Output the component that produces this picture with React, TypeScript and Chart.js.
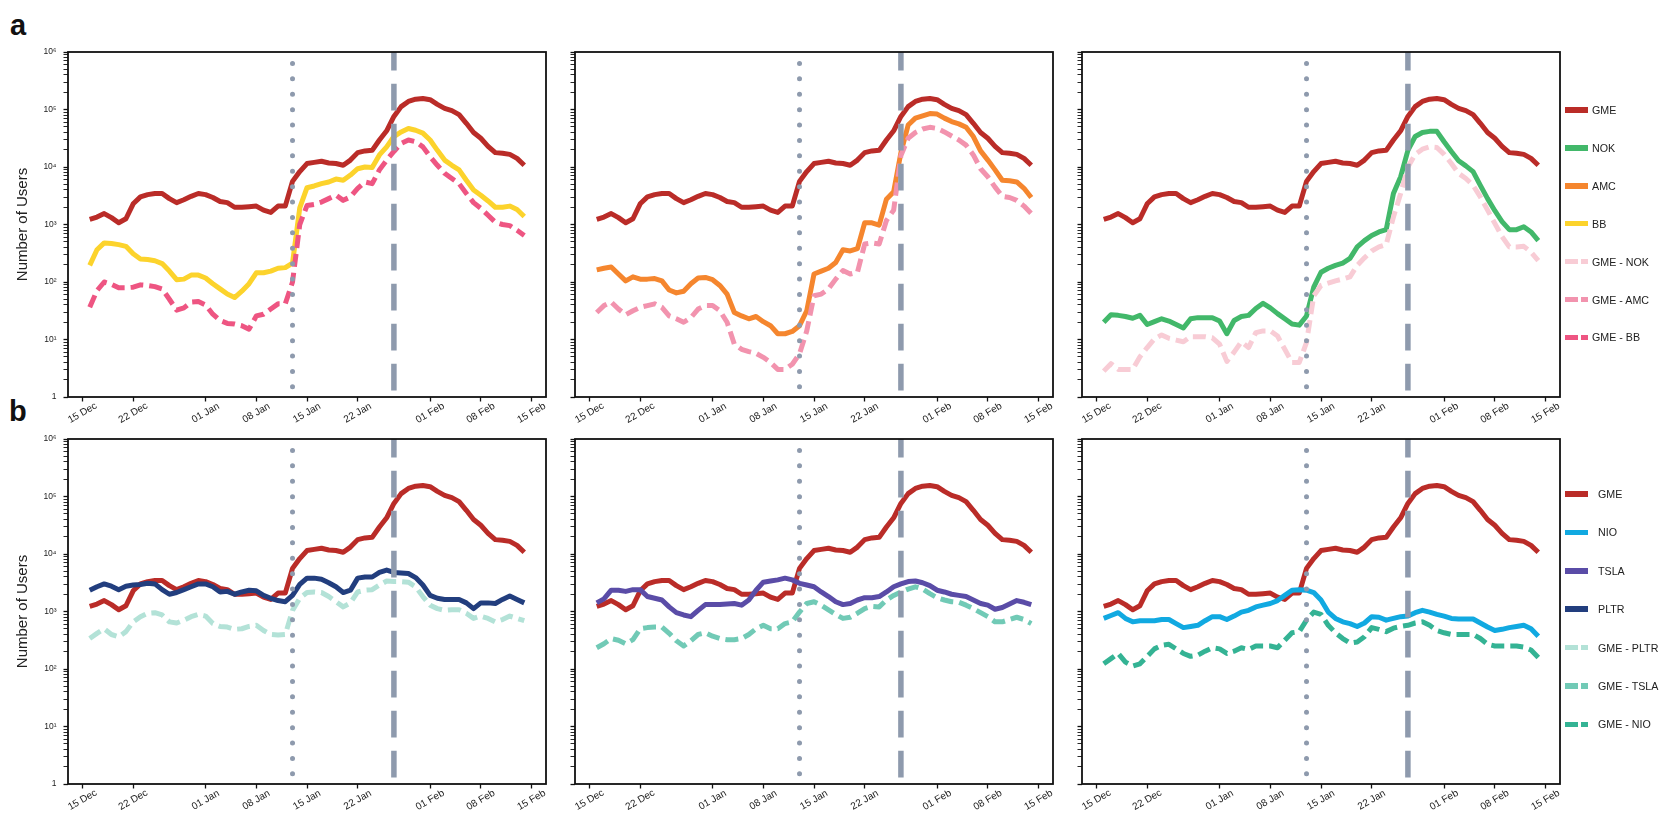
import React, { useEffect, useRef } from 'react';
import { Chart, registerables } from 'chart.js';

Chart.register(...registerables);

const FONT = '"Liberation Sans", Arial, Helvetica, sans-serif';

// x axis: days since 15 Dec 2020 (linear axis)
const firstDay = 1; // first data point: 16 Dec
const xTickDays = [0, 7, 17, 24, 31, 38, 48, 55, 62];
const xTickLabels = ['15 Dec', '22 Dec', '01 Jan', '08 Jan', '15 Jan', '22 Jan', '01 Feb', '08 Feb', '15 Feb'];
const xMin = -2;
const xMax = 64;
const dottedEventDay = 29; // 13 Jan
const dashedEventDay = 43; // 27 Jan
const dottedSpan = [1.5, 6.5e5];
const dashedSpan = [1.3, 1e6];

// y axis tick labels (log scale)
const yTickText: Record<string, string> = {
  '0': '1', '1': '10¹', '2': '10²', '3': '10³', '4': '10⁴', '5': '10⁵', '6': '10⁶',
};

// Series values, stored as log10(number of users), one value per day from 16 Dec to 14 Feb
const gmeLog = [3.09, 3.13, 3.19, 3.12, 3.03, 3.10, 3.36, 3.48, 3.52, 3.54,
  3.54, 3.45, 3.38, 3.43, 3.49, 3.54, 3.52, 3.47, 3.40, 3.38,
  3.30, 3.30, 3.31, 3.32, 3.25, 3.21, 3.32, 3.32, 3.75, 3.92,
  4.06, 4.08, 4.10, 4.07, 4.06, 4.03, 4.12, 4.25, 4.28, 4.29,
  4.47, 4.63, 4.88, 5.05, 5.14, 5.18, 5.19, 5.17, 5.09, 5.02,
  4.98, 4.91, 4.76, 4.60, 4.50, 4.36, 4.25, 4.24, 4.22, 4.15, 4.03];

const bbLog = [2.29, 2.56, 2.68, 2.67, 2.65, 2.62, 2.49, 2.40, 2.39, 2.37,
  2.32, 2.19, 2.04, 2.05, 2.12, 2.12, 2.07, 1.97, 1.88, 1.79,
  1.73, 1.84, 1.97, 2.16, 2.16, 2.19, 2.24, 2.25, 2.33, 3.29,
  3.64, 3.67, 3.71, 3.74, 3.79, 3.77, 3.86, 3.97, 4.00, 3.99,
  4.21, 4.35, 4.53, 4.61, 4.67, 4.64, 4.59, 4.47, 4.29, 4.12,
  4.03, 3.95, 3.77, 3.60, 3.51, 3.41, 3.30, 3.30, 3.32, 3.26, 3.14];

const gmeBbLog = [1.56, 1.85, 2.00, 1.96, 1.90, 1.90, 1.91, 1.95, 1.94, 1.92,
  1.88, 1.70, 1.51, 1.55, 1.65, 1.66, 1.60, 1.44, 1.33, 1.28,
  1.27, 1.24, 1.18, 1.41, 1.44, 1.53, 1.62, 1.62, 2.00, 3.00,
  3.33, 3.35, 3.39, 3.45, 3.51, 3.42, 3.48, 3.63, 3.74, 3.71,
  3.95, 4.12, 4.27, 4.41, 4.47, 4.44, 4.35, 4.18, 4.03, 3.89,
  3.80, 3.71, 3.54, 3.38, 3.28, 3.16, 3.04, 3.00, 2.98, 2.90, 2.81];

const amcLog = [2.21, 2.24, 2.26, 2.14, 2.02, 2.09, 2.05, 2.05, 2.06, 2.02,
  1.86, 1.81, 1.84, 1.97, 2.07, 2.08, 2.04, 1.94, 1.79, 1.47,
  1.41, 1.36, 1.40, 1.31, 1.24, 1.10, 1.10, 1.14, 1.24, 1.50,
  2.14, 2.19, 2.24, 2.34, 2.56, 2.54, 2.58, 3.03, 3.03, 2.99,
  3.44, 3.57, 4.25, 4.73, 4.85, 4.89, 4.93, 4.92, 4.85, 4.79,
  4.75, 4.69, 4.53, 4.28, 4.12, 3.95, 3.77, 3.76, 3.74, 3.63, 3.47];

const gmeAmcLog = [1.47, 1.59, 1.65, 1.53, 1.43, 1.50, 1.56, 1.59, 1.62, 1.56,
  1.41, 1.36, 1.30, 1.38, 1.53, 1.59, 1.59, 1.50, 1.30, 0.92,
  0.83, 0.79, 0.76, 0.69, 0.60, 0.48, 0.48, 0.57, 0.75, 1.15,
  1.76, 1.79, 1.88, 2.05, 2.20, 2.14, 2.17, 2.66, 2.68, 2.66,
  3.07, 3.25, 4.20, 4.50, 4.60, 4.66, 4.69, 4.67, 4.61, 4.54,
  4.47, 4.38, 4.21, 3.97, 3.83, 3.65, 3.49, 3.47, 3.42, 3.32, 3.19];

const nokLog = [1.30, 1.43, 1.42, 1.40, 1.37, 1.42, 1.26, 1.31, 1.36, 1.32,
  1.26, 1.20, 1.36, 1.38, 1.38, 1.38, 1.32, 1.10, 1.33, 1.40,
  1.42, 1.54, 1.63, 1.55, 1.45, 1.36, 1.27, 1.25, 1.41, 1.91,
  2.17, 2.24, 2.29, 2.33, 2.41, 2.61, 2.72, 2.81, 2.87, 2.91,
  3.54, 3.83, 4.29, 4.53, 4.60, 4.62, 4.62, 4.44, 4.27, 4.11,
  4.02, 3.92, 3.68, 3.45, 3.24, 3.05, 2.91, 2.91, 2.96, 2.87, 2.72];

const gmeNokLog = [0.45, 0.58, 0.48, 0.48, 0.48, 0.70, 0.86, 1.01, 1.08, 1.02,
  0.99, 0.96, 1.05, 1.05, 1.05, 1.03, 0.92, 0.62, 0.78, 0.96,
  0.86, 1.12, 1.15, 1.15, 1.06, 0.83, 0.60, 0.60, 0.95, 1.76,
  1.94, 1.98, 2.02, 2.05, 2.09, 2.29, 2.42, 2.54, 2.61, 2.65,
  3.13, 3.54, 4.00, 4.22, 4.31, 4.35, 4.34, 4.22, 4.06, 3.89,
  3.80, 3.68, 3.48, 3.25, 3.02, 2.79, 2.61, 2.61, 2.62, 2.52, 2.37];

const pltrLog = [3.37, 3.43, 3.48, 3.44, 3.38, 3.44, 3.46, 3.47, 3.49, 3.48,
  3.38, 3.30, 3.33, 3.38, 3.43, 3.48, 3.48, 3.43, 3.34, 3.35,
  3.30, 3.34, 3.37, 3.36, 3.28, 3.23, 3.19, 3.17, 3.28, 3.47,
  3.58, 3.58, 3.56, 3.50, 3.43, 3.33, 3.37, 3.58, 3.60, 3.60,
  3.68, 3.72, 3.68, 3.67, 3.66, 3.59, 3.46, 3.28, 3.23, 3.21,
  3.21, 3.21, 3.15, 3.05, 3.15, 3.15, 3.14, 3.21, 3.27, 3.21, 3.15];

const gmePltrLog = [2.53, 2.62, 2.70, 2.60, 2.56, 2.65, 2.82, 2.91, 2.97, 2.98,
  2.94, 2.82, 2.80, 2.85, 2.91, 2.95, 2.92, 2.79, 2.74, 2.73,
  2.69, 2.70, 2.74, 2.76, 2.67, 2.60, 2.59, 2.60, 3.02, 3.23,
  3.33, 3.34, 3.33, 3.26, 3.17, 3.08, 3.15, 3.34, 3.37, 3.38,
  3.46, 3.53, 3.52, 3.52, 3.51, 3.43, 3.26, 3.11, 3.05, 3.02,
  3.03, 3.03, 2.97, 2.88, 2.92, 2.88, 2.82, 2.86, 2.92, 2.88, 2.84];

const tslaLog = [3.15, 3.22, 3.37, 3.37, 3.35, 3.38, 3.38, 3.26, 3.23, 3.20,
  3.08, 2.98, 2.94, 2.91, 3.02, 3.12, 3.12, 3.12, 3.13, 3.14,
  3.11, 3.20, 3.37, 3.51, 3.53, 3.55, 3.58, 3.55, 3.49, 3.46,
  3.43, 3.34, 3.26, 3.17, 3.12, 3.14, 3.20, 3.24, 3.24, 3.26,
  3.34, 3.43, 3.48, 3.52, 3.53, 3.50, 3.45, 3.37, 3.34, 3.30,
  3.28, 3.26, 3.20, 3.14, 3.11, 3.04, 3.07, 3.13, 3.19, 3.16, 3.12];

const gmeTslaLog = [2.37, 2.44, 2.53, 2.50, 2.44, 2.51, 2.70, 2.72, 2.73, 2.73,
  2.62, 2.49, 2.40, 2.49, 2.60, 2.63, 2.57, 2.53, 2.51, 2.51,
  2.53, 2.60, 2.70, 2.76, 2.70, 2.70, 2.79, 2.82, 2.99, 3.14,
  3.17, 3.11, 3.03, 2.95, 2.88, 2.90, 2.97, 3.05, 3.09, 3.08,
  3.20, 3.28, 3.34, 3.39, 3.43, 3.39, 3.31, 3.24, 3.20, 3.17,
  3.16, 3.11, 3.05, 2.98, 2.91, 2.82, 2.82, 2.86, 2.90, 2.86, 2.79];

const nioLog = [2.88, 2.93, 2.98, 2.88, 2.82, 2.84, 2.84, 2.84, 2.86, 2.86,
  2.79, 2.72, 2.74, 2.76, 2.84, 2.91, 2.91, 2.86, 2.92, 2.99,
  3.02, 3.08, 3.11, 3.14, 3.19, 3.28, 3.37, 3.38, 3.37, 3.33,
  3.20, 2.99, 2.88, 2.82, 2.79, 2.74, 2.80, 2.91, 2.90, 2.85,
  2.88, 2.91, 2.92, 2.98, 3.02, 2.99, 2.95, 2.92, 2.88, 2.87,
  2.87, 2.87, 2.80, 2.73, 2.67, 2.69, 2.72, 2.74, 2.76, 2.70, 2.57];

const gmeNioLog = [2.09, 2.18, 2.27, 2.12, 2.05, 2.09, 2.22, 2.35, 2.41, 2.43,
  2.35, 2.27, 2.22, 2.24, 2.31, 2.37, 2.35, 2.27, 2.31, 2.37,
  2.34, 2.40, 2.40, 2.40, 2.37, 2.50, 2.63, 2.65, 2.85, 2.99,
  2.95, 2.76, 2.63, 2.53, 2.45, 2.47, 2.56, 2.72, 2.69, 2.65,
  2.71, 2.74, 2.76, 2.80, 2.82, 2.76, 2.67, 2.63, 2.60, 2.60,
  2.60, 2.60, 2.53, 2.43, 2.40, 2.40, 2.40, 2.40, 2.38, 2.33, 2.20];

const COLORS: Record<string, string> = {
  'GME': '#BA2C28',
  'NOK': '#42B86A',
  'AMC': '#F5862E',
  'BB': '#FCD32C',
  'GME - NOK': '#F8CCD5',
  'GME - AMC': '#F293AE',
  'GME - BB': '#EE5582',
  'NIO': '#11A9E1',
  'TSLA': '#5A4CA7',
  'PLTR': '#223E7E',
  'GME - PLTR': '#B3E2D7',
  'GME - TSLA': '#71CAB6',
  'GME - NIO': '#34B394',
};
const EVENT_COLOR = '#8E9AAD';

const legendA = ['GME', 'NOK', 'AMC', 'BB', 'GME - NOK', 'GME - AMC', 'GME - BB'];
const legendB = ['GME', 'NIO', 'TSLA', 'PLTR', 'GME - PLTR', 'GME - TSLA', 'GME - NIO'];

type Series = { label: string; values: number[] };
type PanelCfg = { left: number; top: number; yLabels: boolean; series: Series[] };

const CA_W = 478;
const CA_H = 345;
const PAD_T = 14;
const PAD_R = 8;
const PAD_B = 40;

const panels: PanelCfg[] = [
  { left: 68, top: 52, yLabels: true, series: [{ label: 'GME', values: gmeLog }, { label: 'BB', values: bbLog }, { label: 'GME - BB', values: gmeBbLog }] },
  { left: 575, top: 52, yLabels: false, series: [{ label: 'GME', values: gmeLog }, { label: 'AMC', values: amcLog }, { label: 'GME - AMC', values: gmeAmcLog }] },
  { left: 1082, top: 52, yLabels: false, series: [{ label: 'GME', values: gmeLog }, { label: 'NOK', values: nokLog }, { label: 'GME - NOK', values: gmeNokLog }] },
  { left: 68, top: 439, yLabels: true, series: [{ label: 'GME', values: gmeLog }, { label: 'PLTR', values: pltrLog }, { label: 'GME - PLTR', values: gmePltrLog }] },
  { left: 575, top: 439, yLabels: false, series: [{ label: 'GME', values: gmeLog }, { label: 'TSLA', values: tslaLog }, { label: 'GME - TSLA', values: gmeTslaLog }] },
  { left: 1082, top: 439, yLabels: false, series: [{ label: 'GME', values: gmeLog }, { label: 'NIO', values: nioLog }, { label: 'GME - NIO', values: gmeNioLog }] },
];

const isDashed = (label: string) => label.indexOf(' - ') >= 0;

const framePlugin = {
  id: 'frame',
  afterDraw(chart: any) {
    const { ctx, chartArea } = chart;
    const { left, top, right, bottom } = chartArea;
    ctx.save();
    ctx.strokeStyle = '#111';
    ctx.lineWidth = 1.8;
    ctx.strokeRect(left, top, right - left, bottom - top);
    ctx.restore();
  },
};

const xLabelPlugin = {
  id: 'xlabels',
  afterDraw(chart: any) {
    const xs = chart.scales.x;
    const ctx = chart.ctx;
    ctx.save();
    ctx.font = `10px ${FONT}`;
    ctx.fillStyle = '#222';
    ctx.textAlign = 'center';
    ctx.textBaseline = 'middle';
    xTickDays.forEach((d, i) => {
      const px = xs.getPixelForValue(d);
      ctx.save();
      ctx.translate(px, chart.chartArea.bottom + 16);
      ctx.rotate(-Math.PI / 6);
      ctx.fillText(xTickLabels[i], 0, 0);
      ctx.restore();
    });
    ctx.restore();
  },
};

function Panel({ cfg }: { cfg: PanelCfg }) {
  const ref = useRef<HTMLCanvasElement>(null);
  const padL = cfg.yLabels ? 68 : 22;
  const W = CA_W + padL + PAD_R;
  const H = CA_H + PAD_T + PAD_B;

  useEffect(() => {
    if (!ref.current) return;
    const n = cfg.series.length;
    const datasets: any[] = [
      {
        label: 'dotted',
        data: [{ x: dottedEventDay, y: dottedSpan[0] }, { x: dottedEventDay, y: dottedSpan[1] }],
        borderColor: EVENT_COLOR,
        borderWidth: 5,
        borderDash: [0, 15.4],
        borderCapStyle: 'round',
        pointRadius: 0,
        order: 0,
      },
      {
        label: 'dashed',
        data: [{ x: dashedEventDay, y: dashedSpan[0] }, { x: dashedEventDay, y: dashedSpan[1] }],
        borderColor: EVENT_COLOR,
        borderWidth: 5.5,
        borderDash: [26.7, 13.3],
        borderCapStyle: 'butt',
        pointRadius: 0,
        order: 0,
      },
    ];
    cfg.series.forEach((s, i) => {
      const dashed = isDashed(s.label);
      datasets.push({
        label: s.label,
        data: s.values.map((v, k) => ({ x: firstDay + k, y: Math.pow(10, v) })),
        borderColor: COLORS[s.label],
        backgroundColor: COLORS[s.label],
        borderWidth: 5,
        borderDash: dashed ? [13, 6] : [],
        borderCapStyle: 'butt',
        borderJoinStyle: 'round',
        pointRadius: 0,
        tension: 0,
        fill: false,
        order: 10 + (n - i),
      });
    });

    const chart = new Chart(ref.current, {
      type: 'line',
      data: { datasets },
      options: {
        animation: false,
        responsive: false,
        events: [],
        layout: { padding: { top: PAD_T, right: PAD_R, left: 0, bottom: 0 } },
        plugins: { legend: { display: false }, tooltip: { enabled: false } },
        scales: {
          x: {
            type: 'linear',
            min: xMin,
            max: xMax,
            border: { display: false },
            grid: { drawOnChartArea: false, drawTicks: true, tickLength: 4.5, tickWidth: 1.3, tickColor: '#111' },
            ticks: { display: false },
            afterBuildTicks: (s: any) => { s.ticks = xTickDays.map((v) => ({ value: v })); },
            afterFit: (s: any) => { s.height = PAD_B; },
          },
          y: {
            type: 'logarithmic',
            min: 1,
            max: 1e6,
            border: { display: false },
            grid: {
              drawOnChartArea: false,
              drawTicks: true,
              tickLength: 4.5,
              tickColor: '#111',
              tickWidth: (ctx: any) => (ctx.tick && ctx.tick.major ? 1.3 : 0.9),
            },
            afterBuildTicks: (s: any) => {
              s.ticks = s.ticks.filter((t: any) => {
                const m = t.value / Math.pow(10, Math.floor(Math.log10(t.value) + 1e-9));
                return Math.abs(m - Math.round(m)) < 1e-6;
              });
            },
            ticks: {
              display: cfg.yLabels,
              autoSkip: false,
              padding: 7,
              color: '#222',
              font: { size: 8.5, family: FONT },
              callback: (v: any) => {
                const e = Math.log10(Number(v));
                const r = Math.round(e);
                return Math.abs(e - r) < 1e-6 ? (yTickText[String(r)] ?? '') : '';
              },
            },
            title: {
              display: cfg.yLabels,
              text: 'Number of Users',
              color: '#222',
              font: { size: 15, family: FONT },
              padding: { top: 14, bottom: 0 },
            },
            afterFit: (s: any) => { s.width = padL; },
          },
        },
      } as any,
      plugins: [framePlugin, xLabelPlugin],
    });
    return () => chart.destroy();
  }, []);

  return (
    <canvas
      ref={ref}
      width={W}
      height={H}
      style={{ position: 'absolute', left: cfg.left - padL, top: cfg.top - PAD_T, width: W, height: H }}
    />
  );
}

function Legend({ labels, top, step, textLeft }: { labels: string[]; top: number; step: number; textLeft: number }) {
  return (
    <>
      {labels.map((lab, i) => {
        const cy = top + i * step;
        const c = COLORS[lab];
        const dashed = isDashed(lab);
        return (
          <React.Fragment key={lab}>
            {dashed ? (
              <>
                <div style={{ position: 'absolute', left: 1565, top: cy - 2.75, width: 12.7, height: 5.5, background: c }} />
                <div style={{ position: 'absolute', left: 1581, top: cy - 2.75, width: 7, height: 5.5, background: c }} />
              </>
            ) : (
              <div style={{ position: 'absolute', left: 1565, top: cy - 2.75, width: 23, height: 5.5, background: c }} />
            )}
            <div
              style={{
                position: 'absolute',
                left: textLeft,
                top: cy - 8,
                height: 16,
                lineHeight: '16px',
                fontSize: 10.7,
                fontFamily: FONT,
                color: '#222',
                whiteSpace: 'nowrap',
              }}
            >
              {lab}
            </div>
          </React.Fragment>
        );
      })}
    </>
  );
}

export default function App() {
  return (
    <div
      style={{
        position: 'absolute',
        left: 0,
        top: 0,
        width: 1661,
        height: 830,
        background: '#fff',
        overflow: 'hidden',
        fontFamily: FONT,
      }}
    >
      <div style={{ position: 'absolute', left: 10, top: 10.5, fontSize: 29, lineHeight: '29px', fontWeight: 'bold', fontFamily: FONT, color: '#111' }}>a</div>
      <div style={{ position: 'absolute', left: 9, top: 396.5, fontSize: 29, lineHeight: '29px', fontWeight: 'bold', fontFamily: FONT, color: '#111' }}>b</div>
      {panels.map((p, i) => (
        <Panel key={i} cfg={p} />
      ))}
      <Legend labels={legendA} top={110} step={37.9} textLeft={1592} />
      <Legend labels={legendB} top={494} step={38.4} textLeft={1598} />
    </div>
  );
}
